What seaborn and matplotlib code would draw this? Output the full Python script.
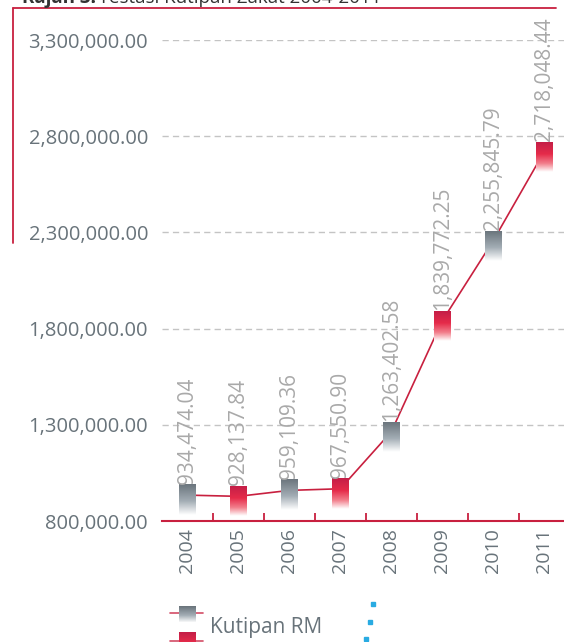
import numpy as np
import pandas as pd
import matplotlib
matplotlib.use("Agg")
import matplotlib.pyplot as plt
import seaborn as sns
from matplotlib.lines import Line2D
from matplotlib.ticker import FuncFormatter

# ---- data ----
years = ["2004", "2005", "2006", "2007", "2008", "2009", "2010", "2011"]
values = [934474.04, 928137.84, 959109.36, 967550.90, 1263402.58,
          1839772.25, 2255845.79, 2718048.44]
value_labels = ["934,474.04", "928,137.84", "959,109.36", "967,550.90",
                "1,263,402.58", "1,839,772.25", "2,255,845.79", "2,718,048.44"]
y_ticks = [800000, 1300000, 1800000, 2300000, 2800000, 3300000]
series_name = "Kutipan RM"
title_bold = "Rajah 3:"
title_rest = "Prestasi Kutipan Zakat 2004-2011"

RED = "#c8203f"
GRAY_TXT = "#68737a"
LABEL_TXT = "#a9a9a9"

sns.set_theme(style="white")
plt.rcParams["font.family"] = ["Open Sans", "DejaVu Sans"]

W, H = 564, 642
fig = plt.figure(figsize=(W / 100, H / 100), dpi=100)
ax = fig.add_axes([162 / W, 1 - 521 / H, 407.5 / W, 481 / H])

df = pd.DataFrame({"year": years, "value": values})
df["pos"] = np.arange(len(df))

sns.lineplot(data=df, x="pos", y="value", ax=ax, color=RED, lw=1.2,
             zorder=2, legend=False)


def gradient(kind, n=64, w=1):
    t = np.linspace(0, 1, n)
    if kind == "gray":
        stops = [(0.0, (0.42, 0.46, 0.49)), (0.55, (0.64, 0.68, 0.71)),
                 (1.0, (1.0, 1.0, 1.0))]
    else:
        stops = [(0.0, (0.77, 0.12, 0.28)), (0.40, (0.90, 0.17, 0.29)),
                 (0.72, (0.95, 0.50, 0.55)), (1.0, (1.0, 1.0, 1.0))]
    pos = [s[0] for s in stops]
    arr = np.zeros((n, w, 4))
    for c in range(3):
        arr[:, :, c] = np.interp(t, pos, [s[1][c] for s in stops])[:, None]
    arr[:, :, 3] = 1.0
    return arr


ypx = (3300000 - 800000) / 481.0   # data units per pixel (y)
xpx = 1 / 51.0                      # data units per pixel (x)

for i, (v, lab) in enumerate(zip(df["value"], value_labels)):
    kind = "gray" if i % 2 == 0 else "red"
    top = v + 10 * ypx
    bot = v - 20 * ypx
    ax.imshow(gradient(kind), extent=[i - 8.5 * xpx, i + 8.5 * xpx, bot, top],
              aspect="auto", zorder=3, interpolation="bilinear", origin="upper")
    ax.text(i, top + 1 * ypx, lab, rotation=90, ha="center", va="bottom",
            fontsize=15, color=LABEL_TXT, clip_on=False, zorder=4)

ax.set_xlim(-0.5, 7.5)
ax.set_ylim(800000, 3300000)
ax.set_yticks(y_ticks)
ax.yaxis.set_major_formatter(FuncFormatter(lambda v, p: f"{v:,.2f}"))
ax.set_xticks(df["pos"])
ax.set_xticklabels(years, rotation=90)
ax.set_xticks(np.arange(0.5, 7, 1), minor=True)
ax.tick_params(axis="x", which="major", length=0, pad=5, labelsize=14,
               labelcolor=GRAY_TXT)
ax.tick_params(axis="x", which="minor", direction="in", length=6, width=1.3,
               color=RED, bottom=True)
ax.tick_params(axis="y", length=0, pad=10, labelsize=14.5, labelcolor=GRAY_TXT)
ax.set_xlabel("")
ax.set_ylabel("")
ax.yaxis.grid(True, ls=(0, (4.5, 3)), color="#c4c4c4", lw=1)
ax.set_axisbelow(True)
for s in ["left", "top", "right"]:
    ax.spines[s].set_visible(False)
ax.spines["bottom"].set_color(RED)
ax.spines["bottom"].set_linewidth(1.5)
ax.spines["bottom"].set_zorder(5)

# frame lines at top-left
fig.add_artist(Line2D([13 / W, 556 / W], [1 - 7.5 / H] * 2, color=RED, lw=1.3))
fig.add_artist(Line2D([13 / W, 13 / W], [1 - 7.5 / H, 1 - 243 / H], color=RED, lw=1.3))

# title (cut at top, as in the reference)
fig.text(22 / W, 1 - 3 / H, title_bold, fontsize=13.5, weight="bold",
         color="#333333", va="baseline")
fig.text(90 / W, 1 - 3 / H, title_rest, fontsize=13.5, color="#333333",
         va="baseline")

# legend (manual)
fig.add_artist(Line2D([170 / W, 203 / W], [1 - 613 / H] * 2, color=RED, lw=1.2, alpha=0.8))
fig.add_artist(Line2D([170 / W, 203 / W], [1 - 641 / H] * 2, color=RED, lw=1.2, alpha=0.8))
fig.figimage(gradient("gray", n=17, w=17), xo=179, yo=H - 623, zorder=5)
fig.figimage(gradient("red", n=26, w=17), xo=179, yo=H - 658, zorder=5)
fig.text(210 / W, 1 - 627 / H, series_name, fontsize=15, color=GRAY_TXT,
         va="center", ha="left")

# decorative dotted blue line
fig.add_artist(Line2D([373 / W, 370 / W, 366 / W],
                      [1 - 604 / H, 1 - 622 / H, 1 - 639 / H],
                      ls="none", marker="s", ms=3.5, color="#29abe2"))

fig.savefig("out.png", dpi=100)
